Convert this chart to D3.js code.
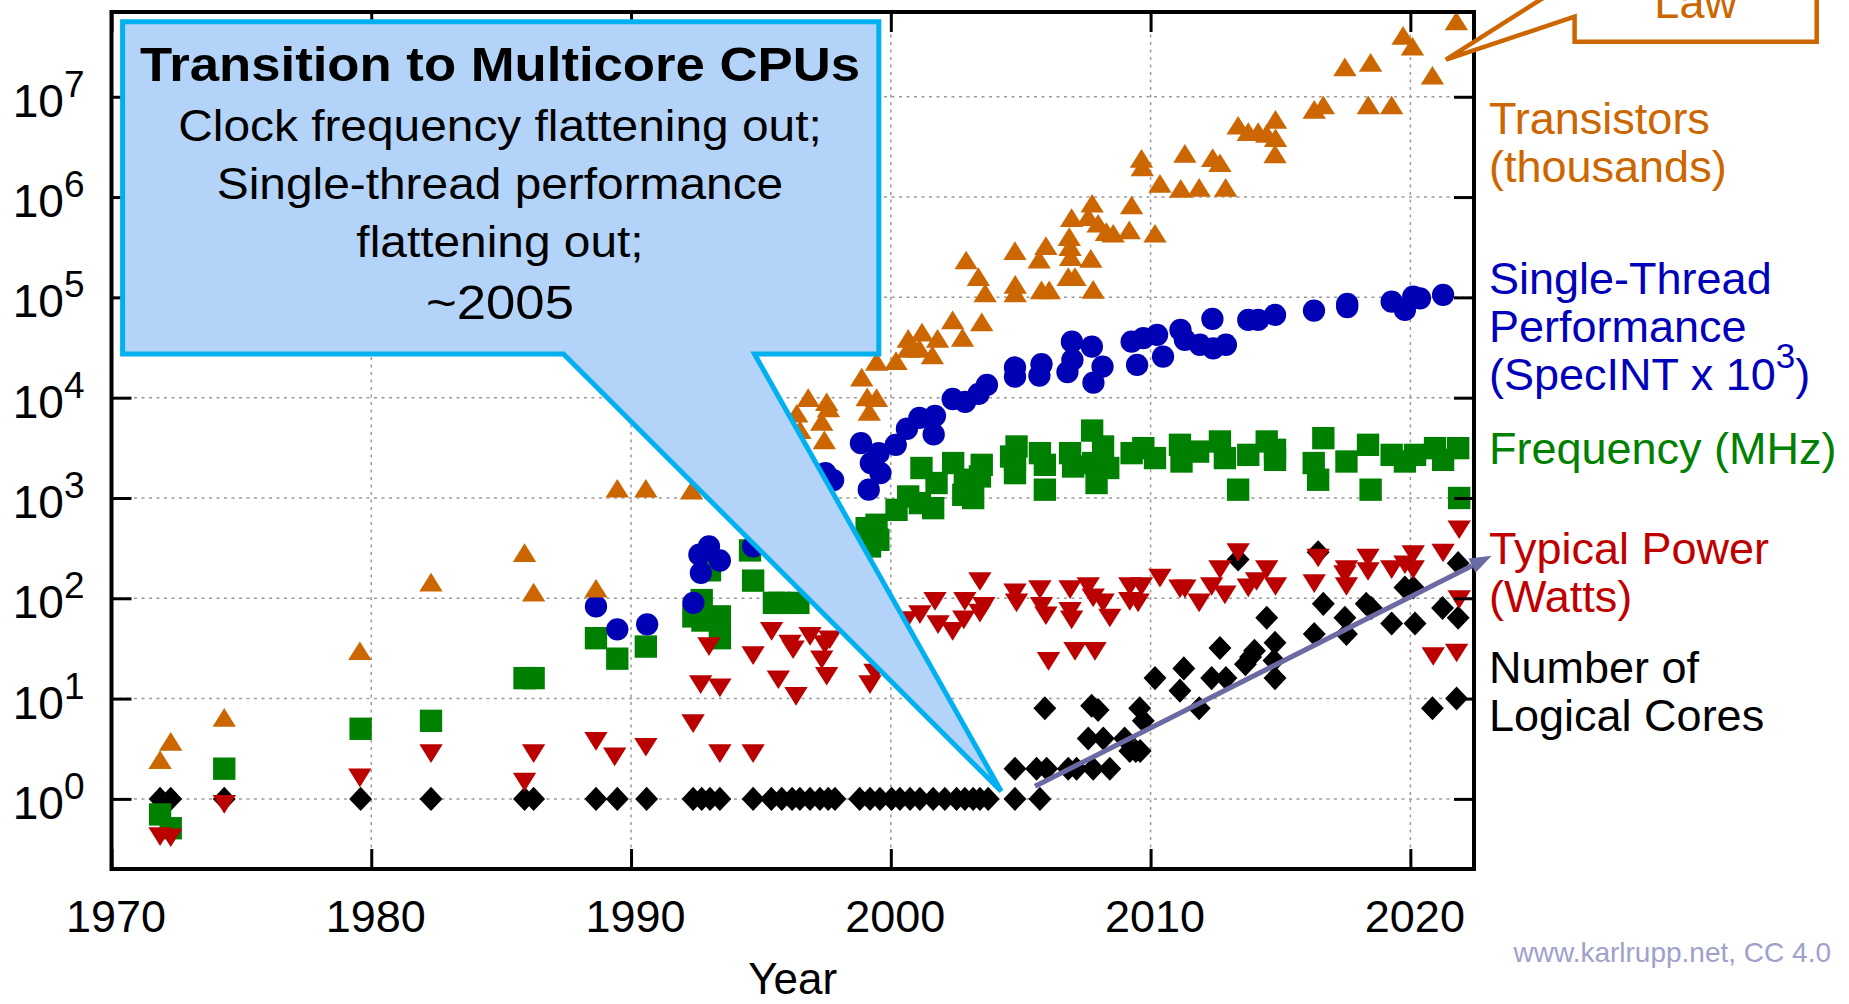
<!DOCTYPE html>
<html>
<head>
<meta charset="utf-8">
<script src="https://cdn.jsdelivr.net/npm/d3@7"></script>
<style>
  html, body { margin: 0; padding: 0; background: #fff; }
  svg { display: block; font-family: "Liberation Sans", Arial, Helvetica, sans-serif; }
</style>
</head>
<body>
<svg id="chart" width="1849" height="1004"></svg>
<script>
// ---- 50 years of microprocessor trend data: [year, value] ----
const transistors = [ // thousands
  [1971.87, 2.46], [1972.28, 3.75], [1974.34, 6.5], [1979.56, 30], [1982.3, 145],
  [1985.9, 285], [1986.25, 115], [1988.65, 126], [1989.47, 1250], [1990.57, 1250],
  [1992.33, 1200], [1996.38, 7000], [1996.5, 4800], [1996.82, 10000], [1997.53, 9100],
  [1997.6, 7900], [1997.34, 5800], [1997.44, 3800], [1998.88, 16000], [1999.09, 10200],
  [1999.45, 10000], [1999.17, 7300], [1999.45, 23000], [2000.2, 23400], [2000.67, 39000],
  [2000.67, 31000], [2001.2, 45000], [2001.1, 31000], [2001.6, 26700], [2001.8, 39000],
  [2002.38, 59600], [2002.76, 40000], [2003.5, 57000], [2002.9, 236000], [2003.37, 161000],
  [2003.63, 111000], [2004.78, 292000], [2004.79, 135000], [2004.79, 111000], [2005.71, 240000],
  [2005.97, 328000], [2005.8, 119000], [2006.1, 119000], [2006.87, 403000], [2006.9, 320000],
  [2006.92, 255000], [2006.83, 161000], [2007.09, 161000], [2007.7, 245000], [2007.79, 120000],
  [2006.96, 623000], [2007.75, 867000], [2007.6, 638000], [2007.98, 548000], [2008.3, 452000],
  [2008.56, 436000], [2009.18, 470000], [2009.27, 834000], [2010.17, 436000], [2009.65, 2430000],
  [2009.68, 2000000], [2010.36, 1370000], [2011.16, 1220000], [2011.87, 1250000], [2012.89, 1250000],
  [2011.32, 2730000], [2012.39, 2470000], [2012.67, 2200000], [2013.37, 5200000], [2013.76, 4500000],
  [2014.14, 4500000], [2014.47, 4300000], [2014.81, 5960000], [2014.81, 3900000], [2014.79, 2700000],
  [2016.3, 7500000], [2016.65, 8300000], [2017.48, 19900000], [2018.47, 22000000], [2018.38, 8300000],
  [2019.28, 8300000], [2019.72, 41000000], [2020.08, 32000000], [2020.85, 16400000], [2021.77, 57000000]
];

const singleThread = [ // SpecINT x 1000
  [1988.65, 83], [1989.47, 49], [1990.62, 55], [1992.4, 90], [1992.69, 179],
  [1992.63, 272], [1993.0, 329], [1993.42, 238], [1994.7, 329], [1997.48, 1770],
  [1997.78, 1510], [1998.85, 3520], [1999.23, 2230], [1999.53, 2800], [1999.6, 1770],
  [1999.15, 1210], [2000.19, 3390], [2000.62, 4900], [2001.1, 6300], [2001.7, 6600],
  [2001.65, 4300], [2002.38, 9700], [2002.86, 9100], [2003.38, 10900], [2003.7, 13400],
  [2004.78, 20000], [2004.78, 16200], [2005.8, 21600], [2005.72, 16600], [2006.97, 36200],
  [2006.99, 23800], [2006.8, 18000], [2007.74, 32300], [2008.15, 20400], [2007.8, 14100],
  [2009.27, 36200], [2009.48, 21200], [2009.72, 39200], [2010.25, 42300], [2010.48, 25700],
  [2011.15, 47400], [2011.32, 37700], [2011.9, 33700], [2012.41, 31000], [2012.9, 33700],
  [2012.38, 61000], [2013.76, 59600], [2014.14, 59600], [2014.79, 66900], [2016.29, 73800],
  [2017.57, 86100], [2017.57, 80000], [2019.28, 90700], [2019.79, 75000], [2020.11, 101700],
  [2020.37, 97800], [2021.26, 106000]
];

const frequency = [ // MHz
  [1971.87, 0.7], [1972.28, 0.51], [1974.34, 2.0], [1979.59, 5.0], [1982.3, 6.0],
  [1985.9, 16], [1986.25, 16], [1988.65, 40], [1989.47, 25], [1990.57, 33],
  [1992.4, 66], [1992.75, 60], [1993.42, 66], [1993.42, 40], [1992.72, 96],
  [1993.04, 190], [1994.58, 300], [1994.7, 150], [1995.5, 90], [1995.73, 90],
  [1996.44, 90], [1999.07, 500], [1999.52, 383], [1999.2, 329], [1999.45, 541],
  [2000.22, 762], [2000.67, 1035], [2001.12, 889], [2001.63, 792], [2001.18, 1990],
  [2001.76, 1410], [2002.4, 2230], [2002.79, 1076], [2002.85, 1520], [2003.43, 1640],
  [2003.5, 2140], [2003.17, 998], [2004.78, 2400], [2004.78, 1770], [2004.84, 3260],
  [2004.63, 2590], [2005.74, 2800], [2005.93, 2140], [2005.93, 1210], [2006.9, 2800],
  [2007.02, 2060], [2007.79, 2230], [2007.92, 1410], [2008.17, 3260], [2008.37, 1990],
  [2007.75, 4700], [2009.27, 2800], [2009.72, 3140], [2010.17, 2500], [2011.13, 3390],
  [2011.19, 2310], [2011.83, 2900], [2012.67, 3660], [2012.86, 2500], [2013.37, 1210],
  [2013.76, 2690], [2014.47, 3660], [2014.79, 3020], [2014.79, 2400], [2016.65, 3950],
  [2016.28, 2230], [2016.45, 1520], [2017.54, 2310], [2018.37, 3390], [2018.47, 1210],
  [2019.28, 2690], [2019.79, 2310], [2020.18, 2690], [2020.95, 3140], [2021.26, 2400],
  [2021.84, 3140], [2021.88, 1000]
];

const power = [ // Watts
  [1971.87, 0.42], [1972.28, 0.41], [1974.34, 0.88], [1979.56, 1.62], [1982.3, 2.83],
  [1985.9, 1.47], [1986.25, 2.83], [1988.65, 3.75], [1989.37, 2.62], [1990.57, 3.27],
  [1992.39, 5.62], [1993.42, 2.83], [1994.7, 2.83], [1992.68, 13.8], [1993.42, 12.8],
  [1993.0, 33], [1994.7, 26.8], [1995.41, 46.8], [1995.67, 15.4], [1996.24, 30.7],
  [1996.12, 35], [1996.89, 41.7], [1997.46, 34.5], [1997.65, 38.6], [1997.34, 24.4],
  [1997.53, 16.7], [1996.35, 10.5], [1999.2, 13.8], [1999.39, 18], [2000.6, 60],
  [2001.12, 68.6], [2001.7, 93], [2001.82, 54.6], [2002.38, 46.8], [2002.85, 93],
  [2002.81, 61], [2003.43, 147], [2003.58, 83], [2003.43, 71], [2004.78, 113],
  [2004.84, 90], [2005.74, 122], [2005.8, 83], [2005.97, 67], [2006.9, 122],
  [2006.9, 74], [2006.96, 61], [2007.6, 131], [2007.79, 101], [2008.17, 90],
  [2008.43, 63.6], [2006.07, 23.5], [2007.09, 29.6], [2007.86, 29.6], [2009.2, 93],
  [2009.52, 90], [2009.2, 131], [2009.65, 131], [2010.36, 159], [2011.13, 124],
  [2011.32, 124], [2011.87, 90], [2012.35, 131], [2012.67, 193], [2012.86, 108],
  [2013.37, 286], [2013.76, 127], [2014.08, 147], [2014.47, 193], [2014.81, 131],
  [2016.3, 140], [2016.45, 252], [2017.54, 193], [2017.48, 172], [2017.54, 131],
  [2018.37, 252], [2018.37, 185], [2019.28, 193], [2019.79, 216], [2020.11, 272],
  [2020.11, 193], [2021.26, 283], [2021.88, 482], [2021.88, 97], [2020.88, 26.3],
  [2021.78, 28.5]
];

const cores = [ // logical cores
  [1971.87, 1], [1972.28, 1], [1974.34, 1], [1979.59, 1], [1982.3, 1], [1985.9, 1],
  [1986.25, 1], [1988.65, 1], [1989.47, 1], [1990.6, 1], [1992.39, 1], [1992.72, 1],
  [1993.04, 1], [1993.42, 1], [1994.7, 1], [1995.4, 1], [1995.8, 1], [1996.2, 1],
  [1996.5, 1], [1996.89, 1], [1997.27, 1], [1997.59, 1], [1997.85, 1], [1998.8, 1],
  [1999.2, 1], [1999.58, 1], [2000.03, 1], [2000.35, 1], [2000.74, 1], [2001.12, 1],
  [2001.63, 1], [2002.08, 1], [2002.53, 1], [2002.85, 1], [2003.17, 1], [2003.43, 1],
  [2003.75, 1], [2004.78, 1], [2005.74, 1],
  [2004.78, 2], [2005.61, 2], [2006.0, 2], [2006.83, 2], [2007.15, 2], [2007.79, 2],
  [2008.43, 2], [2007.6, 4], [2008.18, 4], [2005.93, 8], [2007.73, 8.5], [2007.98, 7.7],
  [2009.0, 4], [2009.2, 3], [2009.43, 3], [2009.6, 3], [2009.58, 8], [2009.72, 6],
  [2010.17, 16], [2011.13, 12], [2011.28, 20], [2011.87, 8], [2012.35, 16], [2012.67, 32],
  [2012.9, 16], [2013.65, 22], [2013.85, 26], [2014.0, 30], [2014.47, 64], [2014.79, 36],
  [2014.75, 24], [2014.79, 16], [2013.37, 244], [2016.3, 44], [2016.65, 88], [2016.45, 288],
  [2017.48, 64], [2017.54, 44], [2018.3, 88], [2018.5, 80], [2019.28, 56], [2019.79, 128],
  [2020.11, 128], [2020.18, 56], [2021.24, 80], [2021.84, 224], [2021.84, 64],
  [2020.85, 8], [2021.78, 10]
];

const yearTicks = [1970, 1980, 1990, 2000, 2010, 2020];
const decadeTicks = [1, 10, 100, 1e3, 1e4, 1e5, 1e6, 1e7];

// ---- scales ----
const svg = d3.select("#chart");
const x = d3.scaleLinear().domain([1970, 2022.45]).range([111.5, 1474]);
const y = d3.scaleLog().domain([0.2, 7e7]).range([869, 12]);
const [L, R] = x.range();
const [B, T] = y.range();

const COLORS = {
  transistors: "#cc6600",
  single: "#0000b4",
  freq: "#008000",
  power: "#bb0000",
  cores: "#000000"
};

// ---- grid ----
const grid = svg.append("g")
  .attr("stroke", "#9a9a9a").attr("stroke-width", 1.5).attr("stroke-dasharray", "3,4.5");
grid.selectAll("line.gh").data(decadeTicks).join("line").attr("class", "gh")
  .attr("x1", L).attr("x2", R).attr("y1", d => y(d)).attr("y2", d => y(d));
grid.selectAll("line.gv").data(yearTicks.filter(d => d > 1970)).join("line").attr("class", "gv")
  .attr("y1", T).attr("y2", B).attr("x1", d => x(d)).attr("x2", d => x(d));

// ---- point markers ----
const triUp = { draw(c, s) { const r = Math.sqrt(s) / 2; c.moveTo(0, -0.8 * r); c.lineTo(r, 0.8 * r); c.lineTo(-r, 0.8 * r); c.closePath(); } };
const triDown = { draw(c, s) { const r = Math.sqrt(s) / 2; c.moveTo(0, 0.8 * r); c.lineTo(r, -0.8 * r); c.lineTo(-r, -0.8 * r); c.closePath(); } };
const diamond = { draw(c, s) { const r = Math.sqrt(s) / 2; c.moveTo(0, -1.05 * r); c.lineTo(r, 0); c.lineTo(0, 1.05 * r); c.lineTo(-r, 0); c.closePath(); } };

function drawSeries(data, type, size, color) {
  svg.append("g").selectAll("path").data(data).join("path")
    .attr("transform", d => `translate(${x(d[0])},${y(d[1])})`)
    .attr("d", d3.symbol().type(type).size(size))
    .attr("fill", color);
}
drawSeries(cores, diamond, 525, COLORS.cores);
drawSeries(frequency, d3.symbolSquare, 500, COLORS.freq);
drawSeries(singleThread, d3.symbolCircle, 390, COLORS.single);
drawSeries(power, triDown, 545, COLORS.power);
drawSeries(transistors, triUp, 545, COLORS.transistors);

// ---- axes ----
function styleAxis(g) {
  g.attr("font-size", null).attr("font-family", null);
  g.select(".domain").remove();
  g.selectAll(".tick line").attr("stroke", "#000").attr("stroke-width", 3);
}
const gB = svg.append("g").attr("transform", `translate(0,${B})`)
  .call(d3.axisBottom(x).tickValues(yearTicks).tickSizeInner(-20).tickSizeOuter(0).tickFormat(d3.format("d")))
  .call(styleAxis);
gB.selectAll(".tick text").attr("y", 62.5).attr("dy", null).attr("dx", 4)
  .attr("font-size", 45).attr("fill", "#000");

svg.append("g").attr("transform", `translate(0,${T})`)
  .call(d3.axisTop(x).tickValues(yearTicks).tickSizeInner(-20).tickSizeOuter(0).tickFormat(""))
  .call(styleAxis);

const gL = svg.append("g").attr("transform", `translate(${L},0)`)
  .call(d3.axisLeft(y).tickValues(decadeTicks).tickSizeInner(-20).tickSizeOuter(0).tickFormat(""))
  .call(styleAxis);
gL.selectAll(".tick text").each(function (d) {
  const t = d3.select(this).text(null)
    .attr("x", -27).attr("y", 19.5).attr("dy", null).attr("text-anchor", "end").attr("fill", "#000");
  t.append("tspan").attr("font-size", 46).text("10");
  t.append("tspan").attr("font-size", 37).attr("dy", -20).text(Math.round(Math.log10(d)));
});

svg.append("g").attr("transform", `translate(${R},0)`)
  .call(d3.axisRight(y).tickValues(decadeTicks).tickSizeInner(-20).tickSizeOuter(0).tickFormat(""))
  .call(styleAxis);

// plot frame
svg.append("rect").attr("x", L).attr("y", T).attr("width", R - L).attr("height", B - T)
  .attr("fill", "none").attr("stroke", "#000").attr("stroke-width", 4);

// axis title
svg.append("text").attr("x", (L + R) / 2).attr("y", 994).attr("text-anchor", "middle")
  .attr("font-size", 44).attr("fill", "#000").text("Year");

// ---- multicore callout ----
const tip = [x(2004.25), y(1.19)];
const box = { x0: 122.6, y0: 21.7, x1: 878.8, y1: 354, b0: 563.5, b1: 754.5 };
const cp = d3.path();
cp.moveTo(box.x0, box.y0);
cp.lineTo(box.x1, box.y0);
cp.lineTo(box.x1, box.y1);
cp.lineTo(box.b1, box.y1);
cp.lineTo(tip[0], tip[1]);
cp.lineTo(box.b0, box.y1);
cp.lineTo(box.x0, box.y1);
cp.closePath();
svg.append("path").attr("d", cp.toString())
  .attr("fill", "#b3d4f8").attr("stroke", "#00b0f0").attr("stroke-width", 5)
  .attr("stroke-linejoin", "miter");

const calloutLines = [
  { text: "Transition to Multicore CPUs", size: 49, weight: "bold", base: 81 },
  { text: "Clock frequency flattening out;", size: 44.5, weight: "normal", base: 140.5 },
  { text: "Single-thread performance", size: 44.5, weight: "normal", base: 198.5 },
  { text: "flattening out;", size: 44.5, weight: "normal", base: 256.5 },
  { text: "~2005", size: 49, weight: "normal", base: 318.5 }
];
const cx = 500;
calloutLines.forEach(l => {
  const t = svg.append("text").attr("x", cx).attr("y", l.base).attr("text-anchor", "middle")
    .attr("font-size", l.size).attr("font-weight", l.weight).attr("fill", "#000").text(l.text);
  const w = t.node().getComputedTextLength();
  t.attr("textLength", w * 1.075).attr("lengthAdjust", "spacingAndGlyphs");
});

// ---- trend arrow for core counts ----
const a0 = [x(2005.55), y(1.335)];
const a1 = [x(2023.13), y(265.6)];
const ang = Math.atan2(a1[1] - a0[1], a1[0] - a0[0]);
const headLen = 22, headHalf = 8;
const ab = [a1[0] - headLen * Math.cos(ang), a1[1] - headLen * Math.sin(ang)];
svg.append("line").attr("x1", a0[0]).attr("y1", a0[1]).attr("x2", ab[0]).attr("y2", ab[1])
  .attr("stroke", "#6b6ba3").attr("stroke-width", 5);
const hp = d3.path();
hp.moveTo(a1[0], a1[1]);
hp.lineTo(ab[0] + headHalf * Math.sin(ang), ab[1] - headHalf * Math.cos(ang));
hp.lineTo(ab[0] - headHalf * Math.sin(ang), ab[1] + headHalf * Math.cos(ang));
hp.closePath();
svg.append("path").attr("d", hp.toString()).attr("fill", "#6b6ba3");

// ---- Moore's law callout (top right) ----
const mTip = [x(2021.37), y(2.35e7)];
const mb = { x0: 1574.6, x1: 1816.7, y1: 41.7, top: -80, p0: 16.7 };
const slopeUp = (0 - mTip[1]) / (1540 - mTip[0]);
const pUpper = mTip[1] + slopeUp * (mb.x0 - mTip[0]);
const mp = d3.path();
mp.moveTo(mb.x0, mb.top);
mp.lineTo(mb.x0, pUpper);
mp.lineTo(mTip[0], mTip[1]);
mp.lineTo(mb.x0, mb.p0);
mp.lineTo(mb.x0, mb.y1);
mp.lineTo(mb.x1, mb.y1);
mp.lineTo(mb.x1, mb.top);
mp.closePath();
svg.append("path").attr("d", mp.toString())
  .attr("fill", "#fff").attr("stroke", COLORS.transistors).attr("stroke-width", 4.5)
  .attr("stroke-linejoin", "miter");
svg.append("text").attr("x", (mb.x0 + mb.x1) / 2).attr("y", 18).attr("text-anchor", "middle")
  .attr("font-size", 45).attr("fill", COLORS.transistors).text("Law");

// ---- series labels on the right ----
const labelX = 1489;
const seriesLabels = [
  { color: "#cc6600", lines: [["Transistors"], ["(thousands)"]], base: 134 },
  { color: "#0000bb", lines: [["Single-Thread"], ["Performance"], ["(SpecINT x 10", "3", ")"]], base: 294 },
  { color: "#008000", lines: [["Frequency (MHz)"]], base: 464 },
  { color: "#c00000", lines: [["Typical Power"], ["(Watts)"]], base: 564 },
  { color: "#000000", lines: [["Number of"], ["Logical Cores"]], base: 683 }
];
const lineStep = 48;
seriesLabels.forEach(s => {
  s.lines.forEach((parts, i) => {
    const t = svg.append("text").attr("x", labelX).attr("y", s.base + i * lineStep)
      .attr("font-size", 45).attr("fill", s.color);
    t.append("tspan").text(parts[0]);
    if (parts.length > 1) {
      t.append("tspan").attr("font-size", 35).attr("dy", -22).text(parts[1]);
      t.append("tspan").attr("dy", 22).text(parts[2]);
    }
  });
});

// credit line
svg.append("text").attr("x", 1831).attr("y", 962).attr("text-anchor", "end")
  .attr("font-size", 28).attr("fill", "#a0a0cc").text("www.karlrupp.net, CC 4.0");
</script>
</body>
</html>
